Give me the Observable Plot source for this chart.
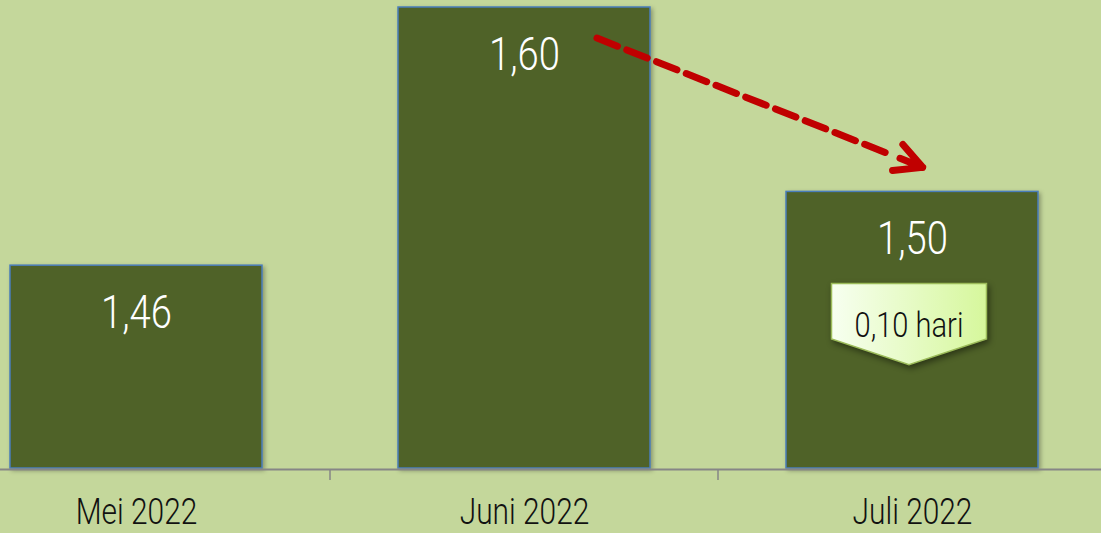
<!DOCTYPE html>
<html>
<head>
<meta charset="utf-8">
<script src="https://cdn.jsdelivr.net/npm/d3@7"></script>
<script src="https://cdn.jsdelivr.net/npm/@observablehq/plot@0.6"></script>
<style>
  html, body { margin: 0; padding: 0; background: #c4d79b; }
  #chart svg { display: block; }
  g[aria-label="bar"] rect { filter: drop-shadow(2px 2px 2px rgba(0,0,0,0.30)); }
</style>
</head>
<body>
<div id="chart"></div>
<script>
// ---- data ----
const months = ["Mei 2022", "Juni 2022", "Juli 2022"];
const durations = [1.46, 1.60, 1.50];          // hari
const yDomain = [1.35, 1.60];
// trend arrow (data units): from Juni to Juli
const arrowMonths = ["Juni 2022", "Juli 2022"];
const arrowValues = [1.599, 1.5155];
// callout on Juli bar (data units): box top, box bottom, tip
const calloutMonth = "Juli 2022";
const calloutValues = [1.45, 1.42, 1.406];
const calloutUnit = "hari";

// ---- helpers ----
const FONT = "Roboto, 'DejaVu Sans Condensed', sans-serif";
const NARROW = 0.83; // horizontal condensing of glyphs
const locale = d3.formatLocale({decimal: ",", thousands: ".", grouping: [3], currency: ["", ""]});
const fmt = locale.format(".2f");
const data = months.map((m, i) => ({month: m, value: durations[i]}));
const diff = durations[months.indexOf(arrowMonths[0])] - durations[months.indexOf(arrowMonths[1])];
const calloutText = `${fmt(diff)} ${calloutUnit}`;
const arrowDatum = [{m1: arrowMonths[0], v1: arrowValues[0], m2: arrowMonths[1], v2: arrowValues[1]}];

// tick marks between categories
function betweenTicks(index, {x, y}) {
  const bw = x.bandwidth();
  const g = d3.create("svg:g");
  const y0 = y(yDomain[0]) + 1;
  for (let i = 0; i < months.length - 1; i++) {
    const xb = (x(months[i]) + bw + x(months[i + 1])) / 2;
    g.append("line").attr("x1", xb).attr("x2", xb).attr("y1", y0).attr("y2", y0 + 11)
      .attr("stroke", "#868686").attr("stroke-width", 1.5);
  }
  return g.node();
}

// pentagon callout
function callout(index, {x, y}) {
  const bw = x.bandwidth();
  const cx = x(calloutMonth) + bw / 2 - 3;
  const half = bw * 0.3075;
  const [top, bottom, tip] = calloutValues.map(v => y(v));
  const g = d3.create("svg:g");
  const defs = g.append("defs");
  const grad = defs.append("linearGradient").attr("id", "calloutGrad")
    .attr("x1", "0%").attr("x2", "100%").attr("y1", "0%").attr("y2", "0%");
  grad.append("stop").attr("offset", "0%").attr("stop-color", "#f7fff0");
  grad.append("stop").attr("offset", "100%").attr("stop-color", "#d6f79c");
  g.append("path")
    .attr("d", `M${cx - half},${top}H${cx + half}V${bottom}L${cx},${tip}L${cx - half},${bottom}Z`)
    .attr("fill", "url(#calloutGrad)")
    .attr("stroke", "#9bbb59")
    .attr("stroke-width", 1.5)
    .style("filter", "drop-shadow(2px 3px 3px rgba(0,0,0,0.45))");
  g.append("text")
    .attr("x", cx)
    .attr("y", (top + tip) / 2 + 0.36 * 35)
    .attr("text-anchor", "middle")
    .attr("font-size", 35)
    .attr("font-family", FONT)
    .attr("font-weight", 300)
    .attr("fill", "#111")
    .text(calloutText);
  return g.node();
}

const chart = Plot.plot({
  width: 1101,
  height: 533,
  marginTop: 7,
  marginBottom: 65,
  marginLeft: 0,
  marginRight: 0,
  style: {background: "#c4d79b", color: "#000", fontFamily: FONT, fontWeight: 300, overflow: "visible"},
  x: {domain: months, range: [-58, 1106], paddingInner: 0.35, paddingOuter: 0.175, label: null},
  y: {domain: yDomain, axis: null},
  marks: [
    Plot.barY(data, {x: "month", y1: () => yDomain[0], y2: "value", fill: "#4f6228", stroke: "#4a7ebb", strokeWidth: 1.5}),
    Plot.text(data, {x: "month", y: "value", text: d => fmt(d.value), dy: 62, lineAnchor: "bottom",
      fill: "white", fontSize: 46, fontFamily: FONT}),
    Plot.ruleY([yDomain[0]], {stroke: "#868686", strokeWidth: 2, dy: 1}),
    betweenTicks,
    Plot.axisX({tickSize: 0, tickPadding: 30, fontSize: 36, label: null, fill: "#111"}),
    callout,
    Plot.arrow(arrowDatum, {x1: "m1", y1: "v1", x2: "m2", y2: "v2", insetStart: 78, insetEnd: 21,
      headLength: 0, stroke: "#c00000", strokeWidth: 7, strokeDasharray: "22,10"}),
    Plot.arrow(arrowDatum, {x1: "m1", y1: "v1", x2: "m2", y2: "v2", insetStart: 404, insetEnd: -11,
      headLength: 6.5, headAngle: 55, stroke: "#c00000", strokeWidth: 7, strokeLinecap: "round"})
  ]
});
document.getElementById("chart").appendChild(chart);
// condense glyphs horizontally to imitate the narrow original typeface
chart.querySelectorAll("text").forEach(t => {
  const w = t.getComputedTextLength();
  if (w > 0) {
    t.setAttribute("textLength", w * NARROW);
    t.setAttribute("lengthAdjust", "spacingAndGlyphs");
  }
});
</script>
</body>
</html>
